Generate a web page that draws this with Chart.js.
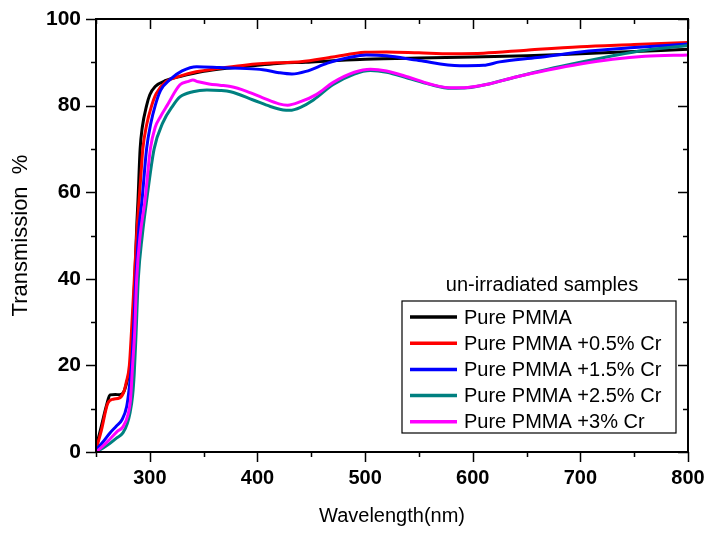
<!DOCTYPE html>
<html lang="en">
<head>
  <meta charset="UTF-8" />
  <title>Transmission of PMMA / Cr films</title>
  <script src="https://cdn.jsdelivr.net/npm/chart.js"></script>
  <style>
    body {
      margin: 0;
      padding: 0;
      background: #fff;
    }
    #chart {
      display: block;
    }
  </style>
</head>
<body>
  <canvas id="chart" width="707" height="533"></canvas>

  <script>
    // wavelength (nm) / transmission (%), one pair of arrays per sample
    const pureWl = [250, 255, 260, 263, 268, 272, 276, 279, 282, 284, 286, 288, 289, 291, 293, 297, 300, 305, 315, 328, 350, 371, 400, 421, 445, 467, 500, 550, 600, 650, 700, 750, 800];
    const pureT  = [1, 6, 11, 13.2, 13.3, 13.2, 14, 16.5, 20, 29, 40, 53, 58, 70, 75, 80, 82.5, 84.4, 85.8, 86.7, 87.9, 88.6, 89.3, 89.8, 90, 90.3, 90.7, 91, 91.2, 91.5, 92, 92.5, 93];

    const cr05Wl = [250, 255, 261, 266, 272, 276, 278, 281, 283, 285.6, 288, 290, 292, 293.5, 297, 301.7, 306, 315, 328, 343, 365, 390, 420, 440, 470, 500, 520, 550, 580, 610, 650, 700, 750, 800];
    const cr05T  = [0.5, 5, 11.3, 12.2, 12.5, 14, 16, 20, 28, 40, 51, 58, 65, 70, 75.5, 80, 82.8, 85.5, 86.8, 87.8, 88.6, 89.4, 89.9, 90.1, 91.2, 92.3, 92.4, 92.2, 92, 92.1, 92.8, 93.6, 94.1, 94.6];

    const cr15Wl = [250, 257, 263, 269, 274, 278.5, 281, 283, 285, 287, 290, 292.7, 297, 301, 305, 310, 318.7, 330, 343.5, 365, 384, 405, 420, 432, 445, 465, 485, 501, 520, 550, 588, 610, 625, 660, 700, 750, 800];
    const cr15T  = [0.5, 2.5, 4.4, 6, 7.4, 10.5, 15, 20, 29, 40, 52, 58, 70, 76, 80, 83.5, 86, 88, 89, 88.8, 88.6, 88.3, 87.6, 87.3, 87.9, 89.8, 91.1, 91.7, 91.5, 90.4, 89.2, 89.3, 90.1, 91.1, 92.4, 93.4, 94.2];

    const cr25Wl = [250, 257, 263, 269, 275, 279, 281.6, 284, 285.5, 287, 289.3, 293, 297, 304, 312, 321.5, 328, 340, 353, 365, 375, 396, 412, 424, 430, 440, 452, 470, 490, 505, 520, 540, 560, 580, 595, 615, 640, 670, 700, 730, 760, 800];
    const cr25T  = [0, 1, 2, 3.2, 4.4, 6.5, 9, 13, 18, 26, 40, 50, 58, 70, 76, 80, 82, 83.2, 83.6, 83.5, 83.2, 81.3, 79.8, 79, 78.9, 79.6, 81.3, 84.8, 87.3, 88.1, 87.7, 86.3, 84.9, 84, 84.1, 85, 86.6, 88.4, 90, 91.5, 92.8, 93.9];

    const cr3Wl = [250, 257, 263, 270, 275, 280, 282, 284, 286, 287.8, 291, 295.5, 300.5, 305, 310, 316, 328, 336, 340, 345, 355, 365, 375, 390, 405, 420, 428, 440, 455, 470, 490, 505, 520, 540, 560, 580, 595, 615, 640, 670, 700, 730, 760, 800];
    const cr3T  = [0, 1.5, 3, 4.8, 5.8, 8.9, 12, 20, 28, 40, 50, 58, 70, 75, 77.5, 80, 84.8, 85.6, 85.9, 85.5, 85, 84.7, 84.4, 83.3, 81.8, 80.4, 80.1, 80.9, 82.6, 85.3, 87.7, 88.4, 88, 86.6, 85, 84.1, 84.2, 85, 86.6, 88.2, 89.6, 90.7, 91.4, 91.7];

    const seriesLabels = ['Pure PMMA', 'Pure PMMA +0.5% Cr', 'Pure PMMA +1.5% Cr', 'Pure PMMA +2.5% Cr', 'Pure PMMA +3% Cr'];
    const seriesColors = ['#000000', '#ff0000', '#0000ff', '#008080', '#ff00ff'];
    const legendTitle = 'un-irradiated samples';

    const xMin = 250, xMax = 800, xStep = 50;
    const yMin = 0, yMax = 100, yStep = 10;

    const FONT = "'Liberation Sans', Arial, sans-serif";

    function toPoints(wl, t) {
      return wl.map((w, i) => ({ x: w, y: t[i] }));
    }

    const allWl = [pureWl, cr05Wl, cr15Wl, cr25Wl, cr3Wl];
    const allT = [pureT, cr05T, cr15T, cr25T, cr3T];

    const datasets = seriesLabels.map((label, i) => ({
      label: label,
      data: toPoints(allWl[i], allT[i]),
      borderColor: seriesColors[i],
      backgroundColor: seriesColors[i],
      borderWidth: 3,
      pointRadius: 0,
      fill: false,
      cubicInterpolationMode: 'monotone',
      order: seriesLabels.length - i
    }));

    // ticks: outward on left/bottom, inward on top/right, minor ticks shorter; plus box + legend
    const framePlugin = {
      id: 'frame',
      afterDatasetsDraw(chart) {
        const ctx = chart.ctx;
        const area = chart.chartArea;
        const xs = chart.scales.x;
        const ys = chart.scales.y;
        ctx.save();
        ctx.strokeStyle = '#000';
        ctx.lineWidth = 2;
        ctx.strokeRect(area.left, area.top, area.right - area.left, area.bottom - area.top);

        ctx.lineWidth = 1.5;
        ctx.beginPath();
        for (let v = xMin; v <= xMax; v += xStep) {
          const px = Math.round(xs.getPixelForValue(v)) + 0.5;
          const len = v % 100 === 0 ? 10 : 5;
          ctx.moveTo(px, area.bottom); ctx.lineTo(px, area.bottom + len);
          ctx.moveTo(px, area.top); ctx.lineTo(px, area.top + len);
        }
        for (let v = yMin; v <= yMax; v += yStep) {
          const py = Math.round(ys.getPixelForValue(v)) + 0.5;
          const len = v % 20 === 0 ? 10 : 5;
          ctx.moveTo(area.left, py); ctx.lineTo(area.left - len, py);
          ctx.moveTo(area.right, py); ctx.lineTo(area.right - len, py);
        }
        ctx.stroke();

        // legend, bottom right inside the plot
        const boxW = 274, rowH = 26.2;
        const boxH = rowH * seriesLabels.length + 1;
        const boxR = area.right - 12;
        const boxB = area.bottom - 19;
        const boxL = boxR - boxW;
        const boxT = boxB - boxH;
        ctx.fillStyle = '#fff';
        ctx.fillRect(boxL, boxT, boxW, boxH);
        ctx.lineWidth = 1.2;
        ctx.strokeRect(boxL, boxT, boxW, boxH);

        ctx.font = '20px ' + FONT;
        ctx.fillStyle = '#000';
        ctx.textAlign = 'center';
        ctx.textBaseline = 'middle';
        ctx.fillText(legendTitle, boxL + boxW / 2 + 3, boxT - 16);

        ctx.textAlign = 'left';
        chart.data.datasets.forEach((ds, i) => {
          const cy = boxT + 16 + i * rowH;
          ctx.strokeStyle = ds.borderColor;
          ctx.lineWidth = 3.5;
          ctx.beginPath();
          ctx.moveTo(boxL + 8, cy);
          ctx.lineTo(boxL + 55, cy);
          ctx.stroke();
          ctx.fillStyle = '#000';
          ctx.fillText(ds.label, boxL + 62, cy + 1);
        });
        ctx.restore();
      }
    };

    Chart.defaults.font.family = FONT;
    Chart.defaults.color = '#000';

    new Chart(document.getElementById('chart').getContext('2d'), {
      type: 'line',
      data: { datasets: datasets },
      options: {
        responsive: false,
        animation: false,
        devicePixelRatio: 1,
        layout: { padding: { left: 0, right: 19, top: 19, bottom: 0 } },
        plugins: {
          legend: { display: false },
          tooltip: { enabled: false }
        },
        scales: {
          x: {
            type: 'linear',
            min: xMin,
            max: xMax,
            grid: { display: false, drawTicks: false },
            border: { display: false },
            ticks: {
              stepSize: xStep,
              padding: 14,
              maxRotation: 0,
              autoSkip: false,
              font: { size: 20, weight: 'bold' },
              callback: v => (v % 100 === 0 && v !== xMin ? v : '')
            },
            title: {
              display: true,
              text: 'Wavelength(nm)',
              font: { size: 20 },
              padding: { top: 0, bottom: 5 }
            },
            afterFit(scale) {
              scale.height = 81;
              scale.paddingLeft = 0;
              scale.paddingRight = 0;
            }
          },
          y: {
            min: yMin,
            max: yMax,
            grid: { display: false, drawTicks: false },
            border: { display: false },
            ticks: {
              stepSize: yStep,
              padding: 15,
              autoSkip: false,
              font: { size: 21, weight: 'bold' },
              callback: v => (v % 20 === 0 ? v : '')
            },
            title: {
              display: true,
              text: 'Transmission  %',
              font: { size: 22 },
              padding: { top: 8, bottom: 0 }
            },
            afterFit(scale) {
              scale.width = 96;
              scale.paddingTop = 0;
              scale.paddingBottom = 0;
            }
          }
        }
      },
      plugins: [framePlugin]
    });
  </script>
</body>
</html>
